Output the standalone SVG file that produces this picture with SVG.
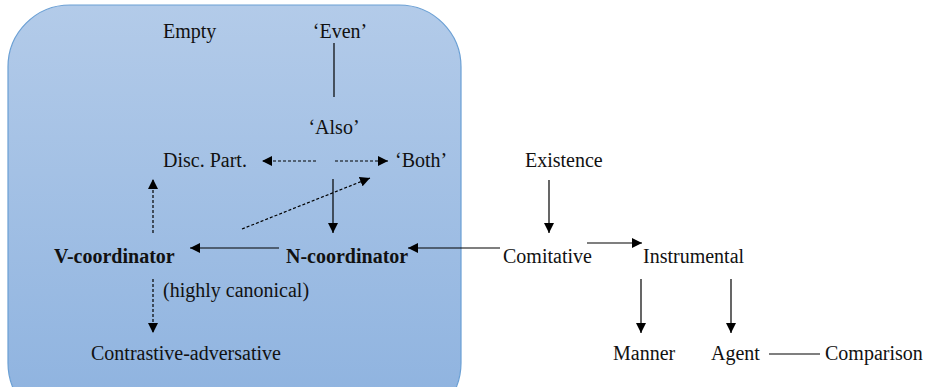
<svg xmlns="http://www.w3.org/2000/svg" width="928" height="387" viewBox="0 0 928 387">
<defs>
<linearGradient id="bg" x1="0" y1="0" x2="0" y2="1">
<stop offset="0" stop-color="#b3cbe9"/>
<stop offset="1" stop-color="#8db2df"/>
</linearGradient>
<marker id="ah" viewBox="0 0 10 10" refX="10" refY="5" markerWidth="10" markerHeight="10" markerUnits="userSpaceOnUse" orient="auto">
<path d="M0,0 L10,5 L0,10 Z" fill="#000"/>
</marker>
<style>
.t{font-family:'Liberation Serif','DejaVu Serif',serif;font-size:20px;fill:#111}
.b{font-weight:bold}
.s{stroke:#000;stroke-width:1.2;fill:none}
.d{stroke:#000;stroke-width:1.2;fill:none;stroke-dasharray:3,2}
</style>
</defs>
<rect x="8" y="5" width="453" height="420" rx="62" ry="62" fill="url(#bg)" stroke="#6a9fd4" stroke-width="1.2"/>
<g id="connectors">
<line class="s" x1="334" y1="43" x2="334" y2="97"/>
<line class="d" x1="316" y1="161" x2="262" y2="161" marker-end="url(#ah)"/>
<line class="d" x1="335" y1="161" x2="388" y2="161" marker-end="url(#ah)"/>
<line class="s" x1="333" y1="179" x2="333" y2="233" marker-end="url(#ah)"/>
<line class="d" x1="242" y1="229" x2="370" y2="178" marker-end="url(#ah)"/>
<line class="d" x1="153" y1="233" x2="153" y2="179" marker-end="url(#ah)"/>
<line class="s" x1="279" y1="248" x2="190" y2="248" marker-end="url(#ah)"/>
<line class="s" x1="500" y1="248" x2="408" y2="248" marker-end="url(#ah)"/>
<line class="d" x1="153" y1="279" x2="153" y2="333" marker-end="url(#ah)"/>
<line class="s" x1="549" y1="180" x2="549" y2="233" marker-end="url(#ah)"/>
<line class="s" x1="587" y1="243" x2="642" y2="243" marker-end="url(#ah)"/>
<line class="s" x1="641" y1="279" x2="641" y2="333" marker-end="url(#ah)"/>
<line class="s" x1="731" y1="279" x2="731" y2="333" marker-end="url(#ah)"/>
<line class="s" x1="769" y1="354" x2="820" y2="354"/>
</g>
<g class="t" font-family="Liberation Serif, serif">
<g id="empty"><text x="163" y="38">Empty</text></g>
<g id="even"><text x="340" y="38" text-anchor="middle">‘Even’</text></g>
<g id="also"><text x="334" y="134" text-anchor="middle">‘Also’</text></g>
<g id="disc"><text x="163" y="167">Disc. Part.</text></g>
<g id="both"><text x="395" y="167">‘Both’</text></g>
<g id="vcoord"><text class="b" x="54" y="263">V-coordinator</text></g>
<g id="ncoord"><text class="b" x="286" y="263">N-coordinator</text></g>
<g id="canon"><text x="163" y="297">(highly canonical)</text></g>
<g id="contrast"><text x="91" y="360">Contrastive-adversative</text></g>
<g id="existence"><text x="525" y="167">Existence</text></g>
<g id="comitative"><text x="503" y="263">Comitative</text></g>
<g id="instrumental"><text x="643" y="263">Instrumental</text></g>
<g id="manner"><text x="613" y="360">Manner</text></g>
<g id="agent"><text x="711" y="360">Agent</text></g>
<g id="comparison"><text x="825" y="360">Comparison</text></g>
</g>
</svg>
